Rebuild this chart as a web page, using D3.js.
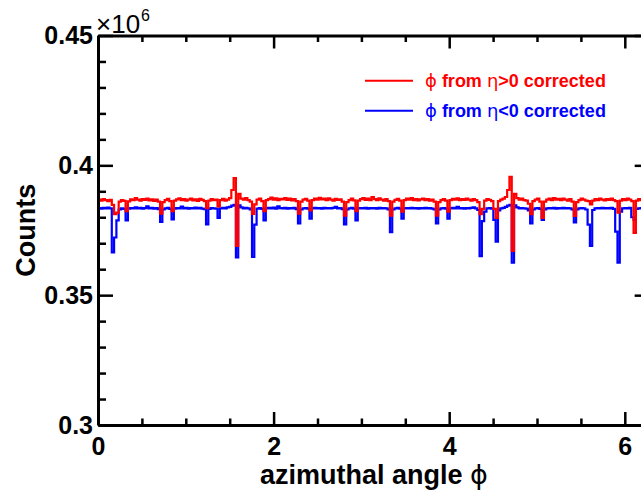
<!DOCTYPE html>
<html>
<head>
<meta charset="utf-8">
<script src="https://cdn.jsdelivr.net/npm/d3@7"></script>
<style>
  html, body { margin: 0; padding: 0; background: #fff; }
  svg { display: block; }
  text { font-family: "Liberation Sans", Arial, Helvetica, sans-serif; }
</style>
</head>
<body>
<svg id="chart" width="641" height="491"></svg>
<script>
// ---- data (counts in units of 10^6), 240 bins over [0, 2*pi] ----
const nBins = 240;
const xMin = 0;
const xMax = 2 * Math.PI;

const redValues = [
0.3868,0.3864,0.3870,0.3866,0.3862,0.3867,0.3848,0.3812,0.3818,0.3860,
0.3866,0.3863,0.3824,0.3861,0.3869,0.3866,0.3874,0.3868,0.3864,0.3870,
0.3867,0.3872,0.3865,0.3869,0.3863,0.3868,0.3860,0.3814,0.3858,0.3866,
0.3871,0.3862,0.3824,0.3864,0.3869,0.3873,0.3866,0.3870,0.3864,0.3868,
0.3872,0.3865,0.3869,0.3863,0.3871,0.3867,0.3862,0.3835,0.3864,0.3870,
0.3866,0.3868,0.3842,0.3866,0.3871,0.3864,0.3868,0.3874,0.3905,0.3951,
0.3690,0.3890,0.3872,0.3868,0.3874,0.3866,0.3860,0.3813,0.3850,0.3868,
0.3872,0.3862,0.3824,0.3866,0.3870,0.3876,0.3868,0.3873,0.3866,0.3871,
0.3869,0.3874,0.3867,0.3872,0.3865,0.3870,0.3862,0.3814,0.3860,0.3868,
0.3871,0.3864,0.3826,0.3866,0.3872,0.3868,0.3875,0.3869,0.3872,0.3866,
0.3873,0.3868,0.3864,0.3871,0.3867,0.3869,0.3860,0.3806,0.3858,0.3866,
0.3872,0.3865,0.3824,0.3864,0.3870,0.3874,0.3867,0.3872,0.3866,0.3878,
0.3870,0.3866,0.3873,0.3868,0.3864,0.3870,0.3862,0.3806,0.3860,0.3867,
0.3871,0.3864,0.3822,0.3866,0.3872,0.3868,0.3874,0.3866,0.3870,0.3865,
0.3869,0.3872,0.3866,0.3870,0.3864,0.3868,0.3860,0.3806,0.3858,0.3866,
0.3870,0.3864,0.3822,0.3866,0.3871,0.3868,0.3873,0.3866,0.3870,0.3867,
0.3872,0.3868,0.3864,0.3870,0.3866,0.3858,0.3812,0.3832,0.3864,0.3870,
0.3867,0.3862,0.3832,0.3798,0.3862,0.3868,0.3872,0.3878,0.3905,0.3956,
0.3670,0.3890,0.3874,0.3868,0.3872,0.3866,0.3864,0.3852,0.3812,0.3862,
0.3868,0.3872,0.3860,0.3798,0.3860,0.3868,0.3872,0.3866,0.3874,0.3868,
0.3871,0.3866,0.3872,0.3868,0.3864,0.3870,0.3860,0.3805,0.3858,0.3866,
0.3872,0.3868,0.3864,0.3862,0.3850,0.3864,0.3870,0.3866,0.3872,0.3868,
0.3865,0.3870,0.3867,0.3872,0.3866,0.3862,0.3818,0.3864,0.3870,0.3866,
0.3872,0.3868,0.3862,0.3740,0.3864,0.3870,0.3866,0.3868,0.3864,0.3868
];

const blueValues = [
0.3835,0.3833,0.3836,0.3834,0.3837,0.3834,0.3665,0.3722,0.3788,0.3830,
0.3834,0.3832,0.3788,0.3833,0.3835,0.3834,0.3838,0.3834,0.3836,0.3833,
0.3835,0.3842,0.3834,0.3836,0.3833,0.3835,0.3831,0.3782,0.3830,0.3834,
0.3836,0.3832,0.3792,0.3833,0.3835,0.3834,0.3841,0.3834,0.3836,0.3833,
0.3835,0.3834,0.3837,0.3834,0.3836,0.3833,0.3831,0.3773,0.3832,0.3835,
0.3834,0.3833,0.3798,0.3834,0.3836,0.3834,0.3838,0.3840,0.3845,0.3848,
0.3645,0.3846,0.3838,0.3834,0.3836,0.3834,0.3830,0.3647,0.3772,0.3833,
0.3835,0.3832,0.3788,0.3834,0.3836,0.3834,0.3837,0.3833,0.3842,0.3835,
0.3834,0.3836,0.3833,0.3835,0.3834,0.3836,0.3831,0.3776,0.3830,0.3834,
0.3835,0.3833,0.3795,0.3834,0.3836,0.3834,0.3835,0.3833,0.3836,0.3834,
0.3835,0.3834,0.3836,0.3840,0.3834,0.3835,0.3831,0.3773,0.3830,0.3834,
0.3836,0.3833,0.3788,0.3834,0.3835,0.3834,0.3836,0.3833,0.3835,0.3834,
0.3835,0.3833,0.3836,0.3834,0.3835,0.3834,0.3830,0.3743,0.3830,0.3834,
0.3836,0.3833,0.3795,0.3834,0.3835,0.3834,0.3836,0.3834,0.3835,0.3833,
0.3835,0.3834,0.3836,0.3834,0.3835,0.3833,0.3830,0.3776,0.3830,0.3834,
0.3835,0.3833,0.3795,0.3834,0.3836,0.3834,0.3840,0.3834,0.3835,0.3833,
0.3835,0.3834,0.3836,0.3838,0.3834,0.3828,0.3650,0.3785,0.3822,0.3834,
0.3835,0.3833,0.3790,0.3706,0.3826,0.3834,0.3836,0.3840,0.3845,0.3848,
0.3625,0.3846,0.3838,0.3834,0.3835,0.3834,0.3833,0.3826,0.3776,0.3830,
0.3834,0.3835,0.3832,0.3790,0.3830,0.3834,0.3835,0.3834,0.3836,0.3833,
0.3835,0.3834,0.3836,0.3834,0.3835,0.3834,0.3830,0.3780,0.3830,0.3834,
0.3835,0.3834,0.3830,0.3772,0.3690,0.3828,0.3834,0.3835,0.3834,0.3836,
0.3834,0.3835,0.3834,0.3836,0.3832,0.3745,0.3625,0.3822,0.3834,0.3835,
0.3834,0.3836,0.3800,0.3790,0.3832,0.3834,0.3835,0.3834,0.3836,0.3834
];

const xMajorTicks = [0, 2, 4, 6];
const xMinorTicks = [0.5, 1, 1.5, 2.5, 3, 3.5, 4.5, 5, 5.5];
const yMajorTicks = [0.3, 0.35, 0.4, 0.45];
const yMinorTicks = [0.31, 0.32, 0.33, 0.34, 0.36, 0.37, 0.38, 0.39, 0.41, 0.42, 0.43, 0.44];
const yTickLabels = ["0.3", "0.35", "0.4", "0.45"];
const xTickLabels = ["0", "2", "4", "6"];

const seriesNames = ["red", "blue"];
const legendLabels = [
  ["\u03D5", " from ", "\u03B7", ">0 corrected"],
  ["\u03D5", " from ", "\u03B7", "<0 corrected"]
];
const xTitleText = "azimuthal angle ";
const xTitleSymbol = "\u03D5";
const yTitleText = "Counts";

// ---- layout ----
const svg = d3.select("#chart");
const pLeft = 98, pRight = 98 + 2 * Math.PI * 87.8, pTop = 35.5, pBottom = 425;
const x = d3.scaleLinear().domain([xMin, xMax]).range([pLeft, pRight]);
const y = d3.scaleLinear().domain([0.3, 0.45]).range([pBottom, pTop]);
const binW = (xMax - xMin) / nBins;
const symFont = "DejaVu Sans, sans-serif";

svg.append("rect").attr("width", 641).attr("height", 491).attr("fill", "#fff");

svg.append("clipPath").attr("id", "frameClip")
  .append("rect").attr("x", pLeft).attr("y", pTop)
  .attr("width", pRight - pLeft).attr("height", pBottom - pTop);

function stepPoints(vals) {
  const pts = vals.map((v, i) => [xMin + i * binW, v]);
  pts.push([xMin + nBins * binW, vals[vals.length - 1]]);
  return pts;
}
const line = d3.line().x(d => x(d[0])).y(d => y(d[1])).curve(d3.curveStepAfter);

const plot = svg.append("g").attr("clip-path", "url(#frameClip)");
plot.append("path").datum(stepPoints(blueValues))
  .attr("d", line).attr("fill", "none").attr("stroke", "#0000ff")
  .attr("stroke-width", 2.2).attr("stroke-linejoin", "miter");
plot.append("path").datum(stepPoints(redValues))
  .attr("d", line).attr("fill", "none").attr("stroke", "#ff0000")
  .attr("stroke-width", 2.2).attr("stroke-linejoin", "miter");

// ---- axes ----
const labelFont = 25;
function styleAxis(g) {
  g.selectAll(".domain").attr("stroke", "#000").attr("stroke-width", 3);
  g.selectAll(".tick line").attr("stroke", "#000").attr("stroke-width", 2.5);
}
// bottom
const gB = svg.append("g").attr("transform", `translate(0,${pBottom})`)
  .call(d3.axisBottom(x).tickValues(xMajorTicks).tickSizeInner(-13).tickSizeOuter(0).tickPadding(12)
    .tickFormat((d, i) => xTickLabels[i]));
styleAxis(gB);
gB.selectAll(".tick text").attr("font-size", labelFont).attr("font-weight", "bold").attr("fill", "#000")
  .attr("font-family", "Liberation Sans, Arial, sans-serif");
svg.append("g").attr("transform", `translate(0,${pBottom})`)
  .call(d3.axisBottom(x).tickValues(xMinorTicks).tickSizeInner(-6.5).tickSizeOuter(0).tickFormat(""))
  .call(g => { styleAxis(g); g.select(".domain").remove(); });
// top
svg.append("g").attr("transform", `translate(0,${pTop})`)
  .call(d3.axisTop(x).tickValues(xMajorTicks).tickSizeInner(-13).tickSizeOuter(0).tickFormat(""))
  .call(styleAxis);
svg.append("g").attr("transform", `translate(0,${pTop})`)
  .call(d3.axisTop(x).tickValues(xMinorTicks).tickSizeInner(-6.5).tickSizeOuter(0).tickFormat(""))
  .call(g => { styleAxis(g); g.select(".domain").remove(); });
// left
const gL = svg.append("g").attr("transform", `translate(${pLeft},0)`)
  .call(d3.axisLeft(y).tickValues(yMajorTicks).tickSizeInner(-15).tickSizeOuter(0).tickPadding(5)
    .tickFormat((d, i) => yTickLabels[i]));
styleAxis(gL);
gL.selectAll(".tick text").attr("font-size", labelFont).attr("font-weight", "bold").attr("fill", "#000")
  .attr("font-family", "Liberation Sans, Arial, sans-serif");
svg.append("g").attr("transform", `translate(${pLeft},0)`)
  .call(d3.axisLeft(y).tickValues(yMinorTicks).tickSizeInner(-8).tickSizeOuter(0).tickFormat(""))
  .call(g => { styleAxis(g); g.select(".domain").remove(); });
// right
svg.append("g").attr("transform", `translate(${pRight},0)`)
  .call(d3.axisRight(y).tickValues(yMajorTicks).tickSizeInner(-15).tickSizeOuter(0).tickFormat(""))
  .call(styleAxis);
svg.append("g").attr("transform", `translate(${pRight},0)`)
  .call(d3.axisRight(y).tickValues(yMinorTicks).tickSizeInner(-8).tickSizeOuter(0).tickFormat(""))
  .call(g => { styleAxis(g); g.select(".domain").remove(); });

// exponent label
const expo = svg.append("text").attr("x", pLeft - 2).attr("y", 33)
  .attr("font-size", 26).attr("fill", "#000");
expo.append("tspan").text("\u00D710");
expo.append("tspan").attr("font-size", 16).attr("dy", -12).attr("dx", 1).text("6");

// titles
const xt = svg.append("text").attr("x", (pLeft + pRight) / 2).attr("y", 484)
  .attr("text-anchor", "middle").attr("font-size", 27).attr("font-weight", "bold").attr("fill", "#000");
xt.append("tspan").text(xTitleText);
xt.append("tspan").attr("font-weight", "normal").attr("font-family", symFont)
  .text(xTitleSymbol);

svg.append("text").attr("transform", `translate(35,${(pTop + pBottom) / 2}) rotate(-90)`)
  .attr("text-anchor", "middle").attr("font-size", 27).attr("font-weight", "bold").attr("fill", "#000")
  .text(yTitleText);

// legend
const legendColors = ["#ff0000", "#0000ff"];
const legendY = [80.7, 110.7];
seriesNames.forEach((s, i) => {
  svg.append("line").attr("x1", 365).attr("x2", 413).attr("y1", legendY[i]).attr("y2", legendY[i])
    .attr("stroke", legendColors[i]).attr("stroke-width", 2);
  const t = svg.append("text").attr("x", 425).attr("y", legendY[i] + 6)
    .attr("font-size", 18).attr("font-weight", "bold").attr("fill", legendColors[i]);
  legendLabels[i].forEach((part, j) => {
    const sp = t.append("tspan").text(part);
    if (j === 0 || j === 2) sp.attr("font-weight", "normal").attr("font-family", symFont);
  });
});
</script>
</body>
</html>
